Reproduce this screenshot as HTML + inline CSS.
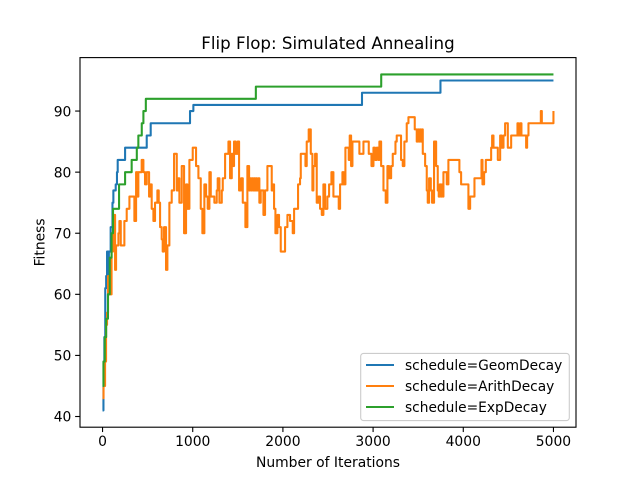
<!DOCTYPE html>
<html>
<head>
<meta charset="utf-8">
<title>Flip Flop: Simulated Annealing</title>
<style>
html,body{margin:0;padding:0;background:#fff;width:640px;height:480px;overflow:hidden}
svg{display:block}
text{font-family:"DejaVu Sans",sans-serif;fill:#000}
</style>
</head>
<body>
<svg id="chart" xmlns="http://www.w3.org/2000/svg" width="640" height="480" viewBox="0 0 640 480">
<rect x="0" y="0" width="640" height="480" fill="#fff"/>
<text x="328" y="49" font-size="16.67" text-anchor="middle">Flip Flop: Simulated Annealing</text>
<text x="328" y="467" font-size="13.89" text-anchor="middle">Number of Iterations</text>
<text x="0" y="0" font-size="13.89" text-anchor="middle" transform="translate(44.5,242.4) rotate(-90)">Fitness</text>
<g id="plot"></g>
<g id="axes"></g>
<g>
<rect x="360.7" y="353.4" width="208.6" height="67.2" rx="2.8" ry="2.8" fill="#fff" fill-opacity="0.8" stroke="#ccc" stroke-width="1.11"/>
<line x1="366" x2="394" y1="365" y2="365" stroke="#1f77b4" stroke-width="2.08"/>
<text x="405" y="370" font-size="13.75">schedule=GeomDecay</text>
<line x1="366" x2="394" y1="386" y2="386" stroke="#ff7f0e" stroke-width="2.08"/>
<text x="405" y="391" font-size="13.75">schedule=ArithDecay</text>
<line x1="366" x2="394" y1="407" y2="407" stroke="#2ca02c" stroke-width="2.08"/>
<text x="405" y="412" font-size="13.75">schedule=ExpDecay</text>
</g>
</svg>
<script>
var xTicks = [0, 1000, 2000, 3000, 4000, 5000];
var yTicks = [40, 50, 60, 70, 80, 90];

var geomIterations = [0, 10, 20, 30, 40, 50, 55, 60, 65, 70, 90, 110, 120, 146, 160, 168, 250, 490, 534, 970, 1007, 2877, 3747, 5000];
var geomFitness = [41, 45, 53, 61, 63, 67, 63, 67, 64, 67, 71, 75, 77, 78, 80, 82, 84, 86, 88, 90, 91, 93, 95, 95];

var expIterations = [0, 10, 25, 40, 60, 80, 100, 116, 183, 250, 323, 380, 397, 435, 453, 480, 1700, 3090, 5000];
var expFitness = [45, 49, 53, 56, 60, 66, 70, 74, 78, 80, 82, 84, 86, 88, 90, 92, 94, 96, 96];

var arithIterations = [
0,11,28,39,50,61,83,100,116,139,
150,176,187,202,224,242,268,298,335,353,
372,386,397,434,453,471,490,516,527,545,
564,582,608,623,638,656,667,682,704,719,
741,767,793,823,838,852,878,904,926,941,
963,1000,1018,1037,1063,1089,1107,1129,1148,1166,
1185,1200,1229,1240,1266,1277,1296,1322,1333,1359,
1377,1396,1414,1433,1451,1458,1477,1499,1514,1536,
1555,1584,1606,1625,1636,1647,1658,1669,1680,1691,
1702,1713,1728,1739,1754,1784,1802,1828,1858,1876,
1887,1902,1917,1939,1957,1976,2005,2024,2050,2079,
2109,2124,2153,2168,2190,2198,2238,2250,2264,2286,
2309,2327,2338,2357,2375,2394,2412,2431,2449,2468,
2493,2512,2538,2560,2604,2619,2634,2660,2675,2693,
2730,2741,2756,2771,2837,2848,2885,2893,2941,2952,
2982,3004,3022,3041,3059,3070,3089,3115,3140,3159,
3177,3200,3218,3248,3262,3292,3310,3329,3347,3373,
3392,3447,3462,3484,3495,3506,3517,3528,3540,3551,
3577,3595,3606,3621,3640,3654,3676,3699,3717,3728,
3739,3750,3761,3772,3780,3817,3835,3946,3957,3976,
4039,4057,4076,4113,4124,4187,4202,4213,4231,4250,
4298,4309,4320,4335,4372,4383,4401,4409,4427,4446,
4464,4483,4494,4520,4531,4594,4601,4612,4630,4645,
4686,4697,4708,4723,4852,4860,4871,4993,5000];
var arithFitness = [
43,45,49,55,57,63,60,67,73,64,
68,70,72,68,68,72,74,76,76,72,
80,76,80,82,80,78,80,76,78,74,
72,75,77,75,71,69,67,71,64,68,
75,77,83,77,79,75,81,70,78,74,
82,84,84,81,79,74,70,78,76,74,
80,76,76,75,77,79,75,77,79,83,
83,85,79,83,81,85,83,85,77,79,
75,71,81,77,79,77,79,77,79,77,
79,77,79,75,77,73,77,81,81,77,
78,74,70,73,71,67,67,71,73,72,
70,74,74,78,79,83,83,81,85,87,
83,77,81,83,75,76,74,73,78,74,
76,78,80,76,76,74,78,80,78,84,
82,86,81,85,85,83,83,85,85,83,
81,84,82,84,82,85,81,77,75,81,
79,81,83,85,86,86,82,81,85,88,
89,89,87,85,87,85,87,85,87,83,
81,77,75,79,77,75,85,81,77,76,
78,76,78,76,80,78,82,82,80,78,
78,74,76,76,79,79,82,78,80,82,
82,84,86,84,84,82,82,86,84,86,
88,88,84,84,86,86,88,86,88,86,
86,84,86,88,88,90,88,88,90];

var SVG_NS = 'http://www.w3.org/2000/svg';
var axLeft = 80, axRight = 576, axTop = 57.6, axBottom = 427.2;
var xMin = -250, xMax = 5250, yMin = 38.25, yMax = 98.75;

function xScale(v) { return axLeft + (v - xMin) / (xMax - xMin) * (axRight - axLeft); }
function yScale(v) { return axBottom - (v - yMin) / (yMax - yMin) * (axBottom - axTop); }

function stepPath(xs, ys) {
  var d = 'M' + xScale(xs[0]).toFixed(2) + ' ' + yScale(ys[0]).toFixed(2);
  for (var i = 1; i < xs.length; i++) {
    d += 'H' + xScale(xs[i]).toFixed(2) + 'V' + yScale(ys[i]).toFixed(2);
  }
  return d;
}
function addSeries(d, color, name) {
  var p = document.createElementNS(SVG_NS, 'path');
  p.setAttribute('d', d);
  p.setAttribute('fill', 'none');
  p.setAttribute('stroke', color);
  p.setAttribute('stroke-width', '2.08');
  p.setAttribute('stroke-linejoin', 'round');
  
  
  document.getElementById('plot').appendChild(p);
}
addSeries(stepPath(geomIterations, geomFitness), '#1f77b4', 'series-geomdecay');
addSeries(stepPath(arithIterations, arithFitness), '#ff7f0e', 'series-arithdecay');
addSeries(stepPath(expIterations, expFitness), '#2ca02c', 'series-expdecay');

var axes = document.getElementById('axes');

var frame = document.createElementNS(SVG_NS, 'rect');
frame.setAttribute('x', axLeft);
frame.setAttribute('y', axTop);
frame.setAttribute('width', axRight - axLeft);
frame.setAttribute('height', axBottom - axTop);
frame.setAttribute('fill', 'none');
frame.setAttribute('stroke', '#000');
frame.setAttribute('stroke-width', '1.11');


axes.appendChild(frame);

xTicks.forEach(function (t) {
  var px = xScale(t);
  var mark = document.createElementNS(SVG_NS, 'line');
  mark.setAttribute('x1', px);
  mark.setAttribute('x2', px);
  mark.setAttribute('y1', axBottom);
  mark.setAttribute('y2', axBottom + 4.86);
  mark.setAttribute('stroke', '#000');
  mark.setAttribute('stroke-width', '1.11');
  
  
  axes.appendChild(mark);
  var label = document.createElementNS(SVG_NS, 'text');
  label.setAttribute('x', px);
  label.setAttribute('y', axBottom + 19);
  label.setAttribute('font-size', '13.89');
  label.setAttribute('text-anchor', 'middle');
  label.textContent = String(t);
  
  
  axes.appendChild(label);
});

yTicks.forEach(function (t) {
  var py = yScale(t);
  var mark = document.createElementNS(SVG_NS, 'line');
  mark.setAttribute('x1', axLeft - 4.86);
  mark.setAttribute('x2', axLeft);
  mark.setAttribute('y1', py);
  mark.setAttribute('y2', py);
  mark.setAttribute('stroke', '#000');
  mark.setAttribute('stroke-width', '1.11');
  
  
  axes.appendChild(mark);
  var label = document.createElementNS(SVG_NS, 'text');
  label.setAttribute('x', axLeft - 8.6);
  label.setAttribute('y', py + 5.2);
  label.setAttribute('font-size', '13.89');
  label.setAttribute('text-anchor', 'end');
  label.textContent = String(t);
  
  
  axes.appendChild(label);
});
</script>
</body>
</html>
